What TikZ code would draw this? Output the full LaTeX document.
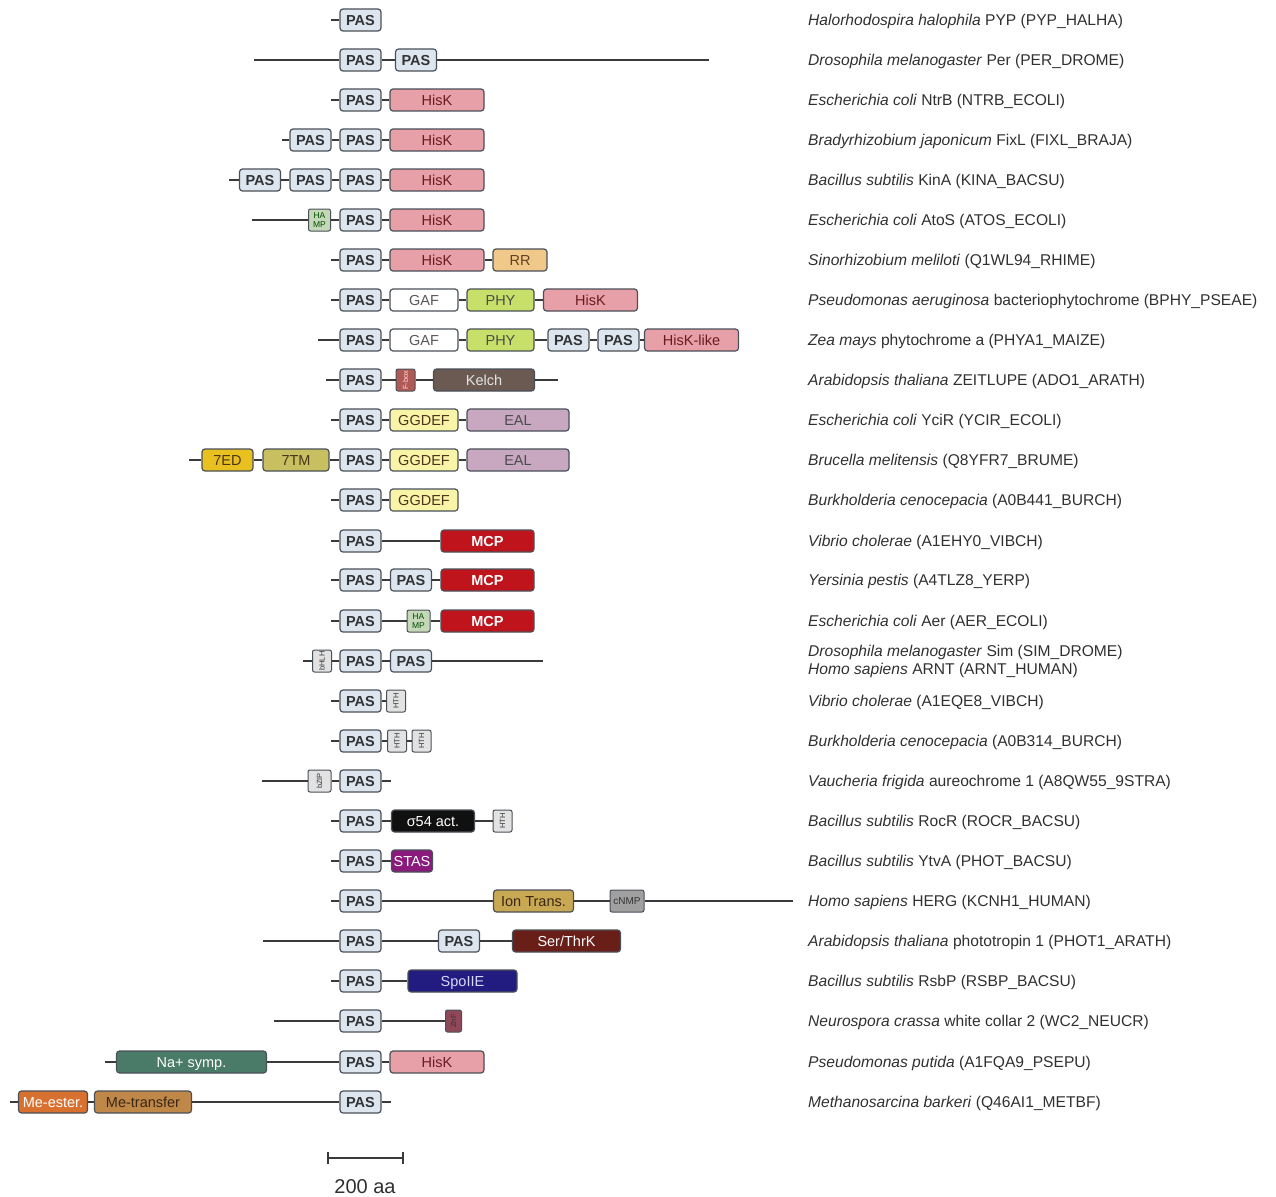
\documentclass[tikz,border=0pt]{standalone}
\usepackage{fontspec}
\setmainfont{Liberation Sans}
\usepackage{graphicx}
\definecolor{pasfill}{HTML}{DDE5EE}
\definecolor{boxline}{HTML}{4A5058}
\definecolor{bbline}{HTML}{3A3A3A}
\definecolor{pastext}{HTML}{303438}
\definecolor{hiskfill}{HTML}{E8A0A8}
\definecolor{hisktext}{HTML}{6A1A22}
\definecolor{rrfill}{HTML}{F0C88A}
\definecolor{phyfill}{HTML}{C8E06A}
\definecolor{ggdeffill}{HTML}{F8F4A8}
\definecolor{ealfill}{HTML}{C8A8C0}
\definecolor{sedfill}{HTML}{E8C020}
\definecolor{stmfill}{HTML}{C8C060}
\definecolor{mcpfill}{HTML}{C0141C}
\definecolor{kelchfill}{HTML}{6A5A52}
\definecolor{fboxfill}{HTML}{B05A55}
\definecolor{hampfill}{HTML}{C4D8B8}
\definecolor{hthfill}{HTML}{E2E2E2}
\definecolor{sigfill}{HTML}{101010}
\definecolor{stasfill}{HTML}{8A1A7C}
\definecolor{ionfill}{HTML}{C8A852}
\definecolor{cnmpfill}{HTML}{A0A0A0}
\definecolor{stkfill}{HTML}{6A1E18}
\definecolor{spofill}{HTML}{221C80}
\definecolor{znfill}{HTML}{904858}
\definecolor{nafill}{HTML}{4A7A68}
\definecolor{mefill}{HTML}{D87030}
\definecolor{mtfill}{HTML}{C08848}
\definecolor{labtext}{HTML}{303030}
\newcommand\myDomFont{\fontsize{14.5}{16}\selectfont}
\newcommand\myLabFont{\fontsize{15.6}{18}\selectfont}
\newcommand\myTinyFont{\fontsize{7.5}{8}\selectfont}
\newcommand\myVText[1]{\rotatebox{90}{\myTinyFont #1}}
\begin{document}
\begin{tikzpicture}[x=1pt,y=-1pt,
  dombox/.style={draw=boxline, line width=1.2pt, rounded corners=3pt, minimum height=22pt,
    inner sep=0pt, font=\myDomFont, text height=10.4pt, text depth=0pt},
  pasbox/.style={dombox, fill=pasfill, minimum width=41pt, font=\myDomFont\bfseries, text=pastext},
  hiskbox/.style={dombox, fill=hiskfill, minimum width=94pt, text=hisktext},
  tinybox/.style={draw=boxline, line width=1pt, rounded corners=2pt, minimum height=22pt, inner sep=0pt},
  hthbox/.style={tinybox, fill=hthfill, minimum width=19pt, text=pastext},
  hampbox/.style={tinybox, fill=hampfill, minimum width=22pt, text=green!30!black, font=\fontsize{8.5}{8.5}\selectfont, align=center},
  bb/.style={draw=bbline, line width=1.4pt},
  lab/.style={anchor=base west, inner sep=0pt, font=\myLabFont, text=labtext}
]
\useasboundingbox (0,0) rectangle (1276,1196);

% Row 1
\coordinate (r1s) at (331,20);
\node[pasbox] (r1a) at (360.5,20) {PAS};
\draw[bb] (r1s) -- (r1a);
% Row 2
\coordinate (r2s) at (254,60);
\coordinate (r2e) at (709,60);
\node[pasbox] (r2a) at (360.5,60) {PAS};
\node[pasbox] (r2b) at (416,60) {PAS};
\draw[bb] (r2s) -- (r2a) -- (r2b) -- (r2e);
% Row 3
\coordinate (r3s) at (331,100);
\node[pasbox] (r3a) at (360.5,100) {PAS};
\node[hiskbox] (r3b) at (437,100) {HisK};
\draw[bb] (r3s) -- (r3a) -- (r3b);
% Row 4
\coordinate (r4s) at (282,140);
\node[pasbox] (r4a) at (310.5,140) {PAS};
\node[pasbox] (r4b) at (360.5,140) {PAS};
\node[hiskbox] (r4c) at (437,140) {HisK};
\draw[bb] (r4s) -- (r4a) -- (r4b) -- (r4c);
% Row 5
\coordinate (r5s) at (229,180);
\node[pasbox] (r5a) at (260,180) {PAS};
\node[pasbox] (r5b) at (310.5,180) {PAS};
\node[pasbox] (r5c) at (360.5,180) {PAS};
\node[hiskbox] (r5d) at (437,180) {HisK};
\draw[bb] (r5s) -- (r5a) -- (r5b) -- (r5c) -- (r5d);
% Row 6
\coordinate (r6s) at (252,220);
\node[hampbox] (r6a) at (319.5,220) {HA\\MP};
\node[pasbox] (r6b) at (360.5,220) {PAS};
\node[hiskbox] (r6c) at (437,220) {HisK};
\draw[bb] (r6s) -- (r6a) -- (r6b) -- (r6c);
% Row 7
\coordinate (r7s) at (331,260);
\node[pasbox] (r7a) at (360.5,260) {PAS};
\node[hiskbox] (r7b) at (437,260) {HisK};
\node[dombox, fill=rrfill, minimum width=54pt, text=brown!50!black] (r7c) at (520,260) {RR};
\draw[bb] (r7s) -- (r7a) -- (r7b) -- (r7c);
% Row 8
\coordinate (r8s) at (331,300);
\node[pasbox] (r8a) at (360.5,300) {PAS};
\node[dombox, fill=white, minimum width=68pt, text=black!65] (r8b) at (424,300) {GAF};
\node[dombox, fill=phyfill, minimum width=67pt, text=black!70] (r8c) at (500.5,300) {PHY};
\node[hiskbox] (r8d) at (590.5,300) {HisK};
\draw[bb] (r8s) -- (r8a) -- (r8b) -- (r8c) -- (r8d);
% Row 9
\coordinate (r9s) at (318,340);
\node[pasbox] (r9a) at (360.5,340) {PAS};
\node[dombox, fill=white, minimum width=68pt, text=black!65] (r9b) at (424,340) {GAF};
\node[dombox, fill=phyfill, minimum width=67pt, text=black!70] (r9c) at (500.5,340) {PHY};
\node[pasbox] (r9d) at (568.5,340) {PAS};
\node[pasbox] (r9e) at (618.5,340) {PAS};
\node[hiskbox] (r9f) at (691.5,340) {HisK-like};
\draw[bb] (r9s) -- (r9a) -- (r9b) -- (r9c) -- (r9d) -- (r9e) -- (r9f);
% Row 10
\coordinate (r10s) at (326,380);
\coordinate (r10e) at (558,380);
\node[pasbox] (r10a) at (360.5,380) {PAS};
\node[tinybox, fill=fboxfill, minimum width=19pt, text=white!85!red] (r10b) at (405.5,380) {\myVText{F-box}};
\node[dombox, fill=kelchfill, minimum width=101pt, text=white!90!black] (r10c) at (484,380) {Kelch};
\draw[bb] (r10s) -- (r10a) -- (r10b) -- (r10c) -- (r10e);
% Row 11
\coordinate (r11s) at (331,420);
\node[pasbox] (r11a) at (360.5,420) {PAS};
\node[dombox, fill=ggdeffill, minimum width=68pt, text=brown!40!black] (r11b) at (424,420) {GGDEF};
\node[dombox, fill=ealfill, minimum width=102pt, text=black!70] (r11c) at (518,420) {EAL};
\draw[bb] (r11s) -- (r11a) -- (r11b) -- (r11c);
% Row 12
\coordinate (r12s) at (189,460);
\node[dombox, fill=sedfill, minimum width=51pt, text=brown!40!black] (r12a) at (227.5,460) {7ED};
\node[dombox, fill=stmfill, minimum width=66pt, text=brown!40!black] (r12b) at (296,460) {7TM};
\node[pasbox] (r12c) at (360.5,460) {PAS};
\node[dombox, fill=ggdeffill, minimum width=68pt, text=brown!40!black] (r12d) at (424,460) {GGDEF};
\node[dombox, fill=ealfill, minimum width=102pt, text=black!70] (r12e) at (518,460) {EAL};
\draw[bb] (r12s) -- (r12a) -- (r12b) -- (r12c) -- (r12d) -- (r12e);
% Row 13
\coordinate (r13s) at (331,500);
\node[pasbox] (r13a) at (360.5,500) {PAS};
\node[dombox, fill=ggdeffill, minimum width=68pt, text=brown!40!black] (r13b) at (424,500) {GGDEF};
\draw[bb] (r13s) -- (r13a) -- (r13b);
% Row 14
\coordinate (r14s) at (331,541);
\node[pasbox] (r14a) at (360.5,541) {PAS};
\node[dombox, fill=mcpfill, minimum width=93pt, text=white, font=\myDomFont\bfseries] (r14b) at (487.5,541) {MCP};
\draw[bb] (r14s) -- (r14a) -- (r14b);
% Row 15
\coordinate (r15s) at (331,580);
\node[pasbox] (r15a) at (360.5,580) {PAS};
\node[pasbox] (r15b) at (411,580) {PAS};
\node[dombox, fill=mcpfill, minimum width=93pt, text=white, font=\myDomFont\bfseries] (r15c) at (487.5,580) {MCP};
\draw[bb] (r15s) -- (r15a) -- (r15b) -- (r15c);
% Row 16
\coordinate (r16s) at (331,621);
\node[pasbox] (r16a) at (360.5,621) {PAS};
\node[hampbox, minimum width=23pt] (r16b) at (418.5,621) {HA\\MP};
\node[dombox, fill=mcpfill, minimum width=93pt, text=white, font=\myDomFont\bfseries] (r16c) at (487.5,621) {MCP};
\draw[bb] (r16s) -- (r16a) -- (r16b) -- (r16c);
% Row 17
\coordinate (r17s) at (303,661);
\coordinate (r17e) at (543,661);
\node[hthbox] (r17a) at (322,661) {\myVText{bHLH}};
\node[pasbox] (r17b) at (360.5,661) {PAS};
\node[pasbox] (r17c) at (411,661) {PAS};
\draw[bb] (r17s) -- (r17a) -- (r17b) -- (r17c) -- (r17e);
% Row 18
\coordinate (r18s) at (331,701);
\node[pasbox] (r18a) at (360.5,701) {PAS};
\node[hthbox] (r18b) at (396,701) {\myVText{HTH}};
\draw[bb] (r18s) -- (r18a) -- (r18b);
% Row 19
\coordinate (r19s) at (331,741);
\node[pasbox] (r19a) at (360.5,741) {PAS};
\node[hthbox] (r19b) at (397,741) {\myVText{HTH}};
\node[hthbox] (r19c) at (421.5,741) {\myVText{HTH}};
\draw[bb] (r19s) -- (r19a) -- (r19b) -- (r19c);
% Row 20
\coordinate (r20s) at (262,781);
\coordinate (r20e) at (391,781);
\node[hthbox, minimum width=23pt] (r20a) at (319.5,781) {\myVText{bZIP}};
\node[pasbox] (r20b) at (360.5,781) {PAS};
\draw[bb] (r20s) -- (r20a) -- (r20b) -- (r20e);
% Row 21
\coordinate (r21s) at (331,821);
\node[pasbox] (r21a) at (360.5,821) {PAS};
\node[dombox, fill=sigfill, minimum width=83pt, text=white] (r21b) at (433,821) {σ54 act.};
\node[hthbox] (r21c) at (502.5,821) {\myVText{HTH}};
\draw[bb] (r21s) -- (r21a) -- (r21b) -- (r21c);
% Row 22
\coordinate (r22s) at (331,861);
\node[pasbox] (r22a) at (360.5,861) {PAS};
\node[dombox, fill=stasfill, minimum width=41pt, text=white] (r22b) at (412,861) {STAS};
\draw[bb] (r22s) -- (r22a) -- (r22b);
% Row 23
\coordinate (r23s) at (331,901);
\coordinate (r23e) at (793,901);
\node[pasbox] (r23a) at (360.5,901) {PAS};
\node[dombox, fill=ionfill, minimum width=80pt, text=brown!30!black] (r23b) at (533.5,901) {Ion Trans.};
\node[tinybox, fill=cnmpfill, minimum width=34pt, font=\fontsize{10}{10}\selectfont, text=black!80] (r23c) at (627,901) {cNMP};
\draw[bb] (r23s) -- (r23a) -- (r23b) -- (r23c) -- (r23e);
% Row 24
\coordinate (r24s) at (263,941);
\node[pasbox] (r24a) at (360.5,941) {PAS};
\node[pasbox] (r24b) at (459,941) {PAS};
\node[dombox, fill=stkfill, minimum width=108pt, text=white] (r24c) at (566.5,941) {Ser/ThrK};
\draw[bb] (r24s) -- (r24a) -- (r24b) -- (r24c);
% Row 25
\coordinate (r25s) at (331,981);
\node[pasbox] (r25a) at (360.5,981) {PAS};
\node[dombox, fill=spofill, minimum width=109pt, text=white!85!blue] (r25b) at (462.5,981) {SpoIIE};
\draw[bb] (r25s) -- (r25a) -- (r25b);
% Row 26
\coordinate (r26s) at (274,1021);
\node[pasbox] (r26a) at (360.5,1021) {PAS};
\node[tinybox, fill=znfill, minimum width=16pt, text=black!80] (r26b) at (453.5,1021) {\myVText{ZnF}};
\draw[bb] (r26s) -- (r26a) -- (r26b);
% Row 27
\coordinate (r27s) at (105,1062);
\node[dombox, fill=nafill, minimum width=150pt, text=white] (r27a) at (191.5,1062) {Na+ symp.};
\node[pasbox] (r27b) at (360.5,1062) {PAS};
\node[hiskbox] (r27c) at (437,1062) {HisK};
\draw[bb] (r27s) -- (r27a) -- (r27b) -- (r27c);
% Row 28
\coordinate (r28s) at (10,1102);
\coordinate (r28e) at (391,1102);
\node[dombox, fill=mefill, minimum width=69pt, text=white] (r28a) at (53,1102) {Me-ester.};
\node[dombox, fill=mtfill, minimum width=97pt, text=brown!30!black] (r28b) at (143,1102) {Me-transfer};
\node[pasbox] (r28c) at (360.5,1102) {PAS};
\draw[bb] (r28s) -- (r28a) -- (r28b) -- (r28c) -- (r28e);

% Scale bar
\coordinate (sbL) at (328,1158);
\coordinate (sbR) at (403,1158);
\draw[bb] (sbL) -- (sbR);
\draw[bb] ([yshift=-6pt]sbL) -- ([yshift=6pt]sbL);
\draw[bb] ([yshift=-6pt]sbR) -- ([yshift=6pt]sbR);
\node[font=\fontsize{20}{22}\selectfont, text=labtext, inner sep=0pt, text height=14.3pt, text depth=0pt] (sbt) at (365,1186) {200 aa};

% Labels
\node[lab] (l1) at (808,25.5) {\textit{Halorhodospira halophila} PYP (PYP\_HALHA)};
\node[lab] (l2) at (808,65.5) {\textit{Drosophila melanogaster} Per (PER\_DROME)};
\node[lab] (l3) at (808,105.5) {\textit{Escherichia coli} NtrB (NTRB\_ECOLI)};
\node[lab] (l4) at (808,145.5) {\textit{Bradyrhizobium japonicum} FixL (FIXL\_BRAJA)};
\node[lab] (l5) at (808,185.5) {\textit{Bacillus subtilis} KinA (KINA\_BACSU)};
\node[lab] (l6) at (808,225.5) {\textit{Escherichia coli} AtoS (ATOS\_ECOLI)};
\node[lab] (l7) at (808,265.5) {\textit{Sinorhizobium meliloti} (Q1WL94\_RHIME)};
\node[lab] (l8) at (808,305.5) {\textit{Pseudomonas aeruginosa} bacteriophytochrome (BPHY\_PSEAE)};
\node[lab] (l9) at (808,345.5) {\textit{Zea mays} phytochrome a (PHYA1\_MAIZE)};
\node[lab] (l10) at (808,385.5) {\textit{Arabidopsis thaliana} ZEITLUPE (ADO1\_ARATH)};
\node[lab] (l11) at (808,425.5) {\textit{Escherichia coli} YciR (YCIR\_ECOLI)};
\node[lab] (l12) at (808,465.5) {\textit{Brucella melitensis} (Q8YFR7\_BRUME)};
\node[lab] (l13) at (808,505.5) {\textit{Burkholderia cenocepacia} (A0B441\_BURCH)};
\node[lab] (l14) at (808,546.5) {\textit{Vibrio cholerae} (A1EHY0\_VIBCH)};
\node[lab] (l15) at (808,585.5) {\textit{Yersinia pestis} (A4TLZ8\_YERP)};
\node[lab] (l16) at (808,626.5) {\textit{Escherichia coli} Aer (AER\_ECOLI)};
\node[lab] (l17a) at (808,656.5) {\textit{Drosophila melanogaster} Sim (SIM\_DROME)};
\node[lab] (l17b) at (808,674.5) {\textit{Homo sapiens} ARNT (ARNT\_HUMAN)};
\node[lab] (l18) at (808,706.5) {\textit{Vibrio cholerae} (A1EQE8\_VIBCH)};
\node[lab] (l19) at (808,746.5) {\textit{Burkholderia cenocepacia} (A0B314\_BURCH)};
\node[lab] (l20) at (808,786.5) {\textit{Vaucheria frigida} aureochrome 1 (A8QW55\_9STRA)};
\node[lab] (l21) at (808,826.5) {\textit{Bacillus subtilis} RocR (ROCR\_BACSU)};
\node[lab] (l22) at (808,866.5) {\textit{Bacillus subtilis} YtvA (PHOT\_BACSU)};
\node[lab] (l23) at (808,906.5) {\textit{Homo sapiens} HERG (KCNH1\_HUMAN)};
\node[lab] (l24) at (808,946.5) {\textit{Arabidopsis thaliana} phototropin 1 (PHOT1\_ARATH)};
\node[lab] (l25) at (808,986.5) {\textit{Bacillus subtilis} RsbP (RSBP\_BACSU)};
\node[lab] (l26) at (808,1026.5) {\textit{Neurospora crassa} white collar 2 (WC2\_NEUCR)};
\node[lab] (l27) at (808,1067.5) {\textit{Pseudomonas putida} (A1FQA9\_PSEPU)};
\node[lab] (l28) at (808,1107.5) {\textit{Methanosarcina barkeri} (Q46AI1\_METBF)};
\end{tikzpicture}
\end{document}
